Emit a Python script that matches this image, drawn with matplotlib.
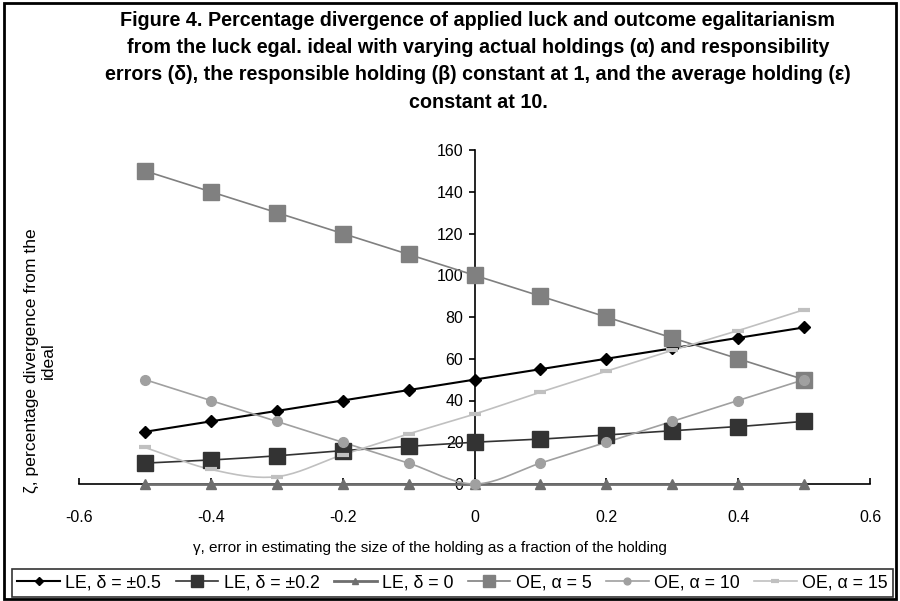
import numpy as np
import matplotlib
matplotlib.use("Agg")
import matplotlib.pyplot as plt
from matplotlib.patches import Rectangle

plt.rcParams['font.family'] = ['Liberation Sans', 'DejaVu Sans']

gamma = [-0.5, -0.4, -0.3, -0.2, -0.1, 0.0, 0.1, 0.2, 0.3, 0.4, 0.5]
le_05 = [25, 30, 35, 40, 45, 50, 55, 60, 65, 70, 75]
le_02 = [10, 11.5, 13.5, 16, 18, 20, 21.5, 23.5, 25.5, 27.5, 30]
le_0 = [0, 0, 0, 0, 0, 0, 0, 0, 0, 0, 0]
oe_5 = [150, 140, 130, 120, 110, 100, 90, 80, 70, 60, 50]
oe_10 = [50, 40, 30, 20, 10, 0, 10, 20, 30, 40, 50]
oe_15 = [17.5, 7, 3.5, 14, 24, 33.5, 44, 54, 64, 73.5, 83.5]

labels = ["LE, δ = ±0.5", "LE, δ = ±0.2", "LE, δ = 0",
          "OE, α = 5", "OE, α = 10", "OE, α = 15"]

title = ("Figure 4. Percentage divergence of applied luck and outcome egalitarianism\n"
         "from the luck egal. ideal with varying actual holdings (α) and responsibility\n"
         "errors (δ), the responsible holding (β) constant at 1, and the average holding (ε)\n"
         "constant at 10.")


def smooth(x, y, n=20):
    # Catmull-Rom style smoothing (similar to spreadsheet "smoothed line")
    x = np.asarray(x, float); y = np.asarray(y, float)
    px = np.concatenate([[2 * x[0] - x[1]], x, [2 * x[-1] - x[-2]]])
    py = np.concatenate([[2 * y[0] - y[1]], y, [2 * y[-1] - y[-2]]])
    xs, ys = [], []
    t = np.linspace(0, 1, n, endpoint=False)
    for i in range(1, len(px) - 2):
        p0, p1, p2, p3 = (np.array([px[j], py[j]]) for j in (i - 1, i, i + 1, i + 2))
        c1 = p1 + (p2 - p0) / 6.0
        c2 = p2 - (p3 - p1) / 6.0
        b = ((1 - t) ** 3)[:, None] * p1 + (3 * (1 - t) ** 2 * t)[:, None] * c1 + \
            (3 * (1 - t) * t ** 2)[:, None] * c2 + (t ** 3)[:, None] * p2
        xs.append(b[:, 0]); ys.append(b[:, 1])
    xs.append([x[-1]]); ys.append([y[-1]])
    return np.concatenate(xs), np.concatenate(ys)


fig = plt.figure(figsize=(9, 6.01), dpi=100)
ax = fig.add_axes([79 / 900, 1 - 484 / 601, (870 - 79) / 900, (484 - 150) / 601])

styles = [
    dict(color='#000000', marker='D', ms=6, mfc='#000000', mec='#000000', lw=1.5),
    dict(color='#333333', marker='s', ms=12, mfc='#333333', mec='#333333', lw=1.2),
    dict(color='#6e6e6e', marker='^', ms=7, mfc='#6e6e6e', mec='#6e6e6e', lw=2.0),
    dict(color='#808080', marker='s', ms=12, mfc='#808080', mec='#808080', lw=1.2),
    dict(color='#a0a0a0', marker='o', ms=7, mfc='#a0a0a0', mec='#a0a0a0', lw=1.2),
    dict(color='#c0c0c0', marker='_', ms=9, mfc='#c0c0c0', mec='#c0c0c0', lw=1.2, mew=3),
]
series = [le_05, le_02, le_0, oe_5, oe_10, oe_15]

handles = []
for ys_, st, lab in zip(series, styles, labels):
    sx, sy = smooth(gamma, ys_)
    ax.plot(sx, sy, color=st['color'], lw=st['lw'], clip_on=False, zorder=2)
    ax.plot(gamma, ys_, linestyle='none', marker=st['marker'], ms=st['ms'],
            mfc=st['mfc'], mec=st['mec'], mew=st.get('mew', 1), clip_on=False, zorder=3)
    h, = ax.plot([], [], color=st['color'], lw=st['lw'], marker=st['marker'],
                 ms=st['ms'] * 0.7, mfc=st['mfc'], mec=st['mec'], mew=st.get('mew', 1))
    handles.append(h)

ax.set_xlim(-0.6, 0.6)
ax.set_ylim(0, 160)
ax.set_xticks(np.round(np.arange(-0.6, 0.61, 0.2), 1))
ax.set_xticklabels(['-0.6', '-0.4', '-0.2', '0', '0.2', '0.4', '0.6'])
ax.set_yticks(np.arange(0, 161, 20))

ax.spines['left'].set_position(('data', 0))
ax.spines['bottom'].set_position(('data', 0))
ax.spines['right'].set_visible(False)
ax.spines['top'].set_visible(False)
for s in ('left', 'bottom'):
    ax.spines[s].set_linewidth(1.2)
    ax.spines[s].set_zorder(1)
ax.patch.set_visible(False)
ax.tick_params(axis='y', direction='out', length=4, width=1.2, labelsize=11.5, pad=4)
ax.tick_params(axis='x', direction='in', length=4, width=1.2, labelsize=11.5, pad=19)
ax.set_xlabel("")
ax.set_ylabel("")

fig.text(478 / 900, 1 - 11 / 601, title, ha='center', va='top', fontsize=14.2,
         fontweight='bold', linespacing=1.55)
fig.text(430 / 900, 1 - 548 / 601, "γ, error in estimating the size of the holding as a fraction of the holding",
         ha='center', va='center', fontsize=11)
fig.text(40 / 900, 1 - 361 / 601, "ζ, percentage divergence from the\nideal", ha='center', va='center',
         rotation=90, fontsize=12.6, multialignment='center', linespacing=1.1)

leg = fig.legend(handles, labels, loc='lower left', ncol=6, mode='expand',
                 bbox_to_anchor=(12 / 900, 1 - 597 / 601, 881 / 900, 30 / 601), fontsize=12.8,
                 frameon=True, fancybox=False, edgecolor='black', handlelength=2.4,
                 columnspacing=1.0, handletextpad=0.3, borderpad=0.3, borderaxespad=0)
leg.get_frame().set_linewidth(1.2)

fig.patches.append(Rectangle((4 / 900, 2 / 601), 892 / 900, 596 / 601, transform=fig.transFigure,
                             fill=False, edgecolor='black', lw=2))

fig.savefig("out.png", dpi=100)
